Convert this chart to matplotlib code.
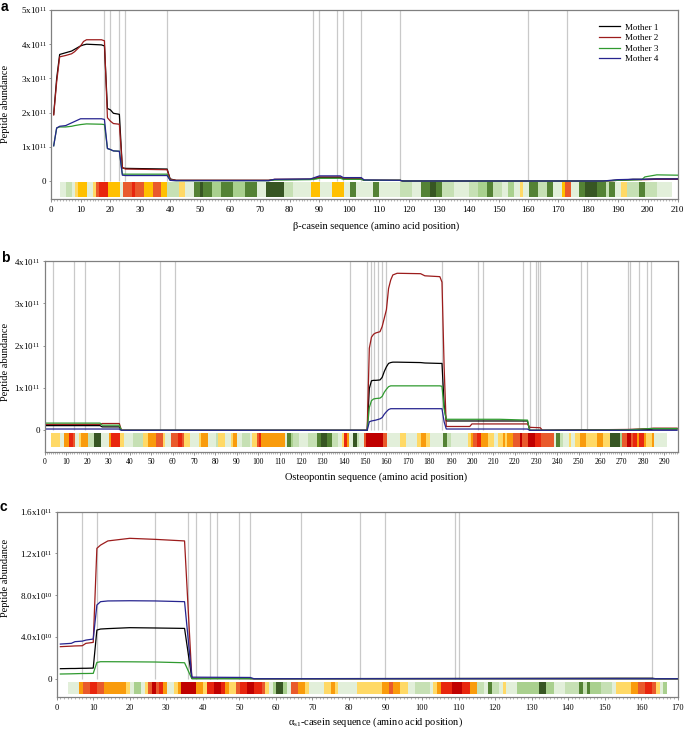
import numpy as np
import matplotlib
matplotlib.use("Agg")
import matplotlib.pyplot as plt
from matplotlib.colors import ListedColormap
from matplotlib.ticker import MultipleLocator

plt.rcParams['font.family'] = ['Liberation Serif', 'DejaVu Serif']
plt.rcParams['mathtext.fontset'] = 'custom'
plt.rcParams['mathtext.rm'] = 'Liberation Serif'
plt.rcParams['mathtext.it'] = 'Liberation Serif:italic'
plt.rcParams['mathtext.bf'] = 'Liberation Serif:bold'

MOTHERS = ["Mother 1", "Mother 2", "Mother 3", "Mother 4"]
LINE_COLORS = ["#000000", "#9c1c1c", "#2f9a2f", "#26248f"]

# heat-strip levels (per amino acid) and their colours
LEVELS = "abcdeyYorRD"
LEVEL_COLORS = ["#e2efda", "#c6e0b4", "#a9d08e", "#548235", "#375623",
                "#ffd966", "#ffc000", "#f99b0c", "#e95a2c", "#e8260e", "#c00000"]

# ---------------- panel a : beta-casein (units 1e11) ----------------
a_pos = [1, 2, 3, 5, 7, 8, 10, 11, 12, 17, 18, 19, 20, 21, 23, 24, 25, 39, 40, 42,
         73, 75, 87, 89, 90, 97, 98, 104, 105, 117, 118, 185, 190, 195, 198, 199, 203, 210]
a_m1 = [1.95, 3.0, 3.7, 3.75, 3.8, 3.85, 3.95, 3.98, 4.0, 3.98, 3.95, 2.12, 2.08, 1.98, 1.95, 0.38, 0.37, 0.35, 0.06, 0.02,
        0.02, 0.04, 0.05, 0.08, 0.1, 0.1, 0.07, 0.06, 0.02, 0.02, 0.0, 0.0, 0.02, 0.05, 0.05, 0.05, 0.06, 0.06]
a_m2 = [1.93, 2.9, 3.63, 3.67, 3.72, 3.78, 3.95, 4.08, 4.13, 4.13, 4.1, 1.85, 1.75, 1.68, 1.66, 0.4, 0.35, 0.33, 0.05, 0.02,
        0.02, 0.05, 0.05, 0.1, 0.12, 0.12, 0.08, 0.08, 0.02, 0.02, 0.0, 0.0, 0.02, 0.04, 0.04, 0.04, 0.05, 0.05]
a_m3 = [1.03, 1.55, 1.58, 1.58, 1.6, 1.62, 1.65, 1.66, 1.67, 1.66, 1.65, 0.95, 0.92, 0.88, 0.87, 0.2, 0.2, 0.2, 0.02, 0.01,
        0.01, 0.03, 0.04, 0.06, 0.08, 0.08, 0.05, 0.05, 0.02, 0.02, 0.0, 0.0, 0.02, 0.03, 0.04, 0.12, 0.18, 0.17]
a_m4 = [1.03, 1.55, 1.6, 1.62, 1.7, 1.74, 1.82, 1.82, 1.82, 1.82, 1.8, 0.95, 0.92, 0.88, 0.87, 0.17, 0.16, 0.16, 0.02, 0.01,
        0.01, 0.05, 0.06, 0.12, 0.15, 0.15, 0.1, 0.1, 0.03, 0.02, 0.0, 0.0, 0.04, 0.05, 0.05, 0.05, 0.06, 0.06]
a_vlines = [18, 20, 23, 25, 39, 88, 90, 96, 98, 104, 117, 160, 173]
a_yticks = [0, 1, 2, 3, 4, 5]
a_ylabels = ["0", r"$\mathrm{1x10^{11}}$", r"$\mathrm{2x10^{11}}$", r"$\mathrm{3x10^{11}}$",
             r"$\mathrm{4x10^{11}}$", r"$\mathrm{5x10^{11}}$"]
a_strip = ("0:3 a:2 b:2 a:1 y:1 Y:3 a:2 y:1 r:1 R:3 Y:4 a:1 r:3 R:1 r:3 Y:3 r:3 Y:2 b:4 y:2 a:3 d:2 e:1 "
           "d:3 c:3 d:4 c:4 d:4 a:3 e:6 b:3 a:6 Y:3 a:4 Y:4 a:2 d:2 a:6 d:2 a:7 b:4 a:3 d:3 e:2 d:2 b:4 "
           "a:5 b:3 c:3 d:2 b:3 a:2 c:2 a:2 y:1 a:2 d:3 b:3 d:2 a:3 Y:1 r:2 a:3 d:2 e:4 d:3 b:1 d:2 a:2 "
           "y:2 b:4 d:2 b:4 a:5 0:2")

# ---------------- panel b : osteopontin (units 1e11) ----------------
b_pos = [1, 26, 27, 35, 36, 151, 152, 153, 154, 155, 157, 158, 159, 160, 161, 162, 163, 165, 176, 178,
         185, 186, 187, 188, 199, 200, 213, 226, 227, 232, 233, 273, 283, 285, 296]
b_m1 = [0.11, 0.11, 0.08, 0.08, 0.0, 0.0, 0.99, 1.17, 1.18, 1.18, 1.19, 1.25, 1.39, 1.5, 1.58, 1.6, 1.61, 1.61, 1.6, 1.59,
        1.58, 1.58, 0.6, 0.22, 0.22, 0.22, 0.22, 0.22, 0.0, 0.0, 0.0, 0.01, 0.02, 0.03, 0.03]
b_m2 = [0.14, 0.14, 0.16, 0.16, 0.0, 0.0, 1.94, 2.2, 2.27, 2.3, 2.33, 2.45, 2.65, 2.85, 3.35, 3.55, 3.67, 3.71, 3.7, 3.65,
        3.63, 3.5, 1.5, 0.09, 0.09, 0.15, 0.15, 0.15, 0.07, 0.06, 0.0, 0.02, 0.04, 0.05, 0.05]
b_m3 = [0.17, 0.17, 0.12, 0.12, 0.0, 0.0, 0.54, 0.7, 0.74, 0.75, 0.76, 0.8, 0.9, 0.97, 1.03, 1.05, 1.05, 1.05, 1.05, 1.05,
        1.05, 1.04, 0.5, 0.26, 0.26, 0.26, 0.26, 0.24, 0.0, 0.0, 0.0, 0.01, 0.04, 0.04, 0.04]
b_m4 = [0.03, 0.03, 0.03, 0.03, 0.0, 0.0, 0.2, 0.22, 0.23, 0.24, 0.27, 0.3, 0.38, 0.44, 0.49, 0.51, 0.51, 0.51, 0.51, 0.51,
        0.51, 0.51, 0.2, 0.03, 0.03, 0.03, 0.03, 0.03, 0.0, 0.0, 0.0, 0.0, 0.0, 0.0, 0.0]
b_vlines = [4, 14, 19, 35, 54, 61, 143, 151, 153, 154, 156, 158, 160, 186, 203, 205, 224, 227, 230, 231, 232,
            251, 254, 273, 274, 278, 282, 284]
b_yticks = [0, 1, 2, 3, 4]
b_ylabels = ["0", r"$\mathrm{1x10^{11}}$", r"$\mathrm{2x10^{11}}$", r"$\mathrm{3x10^{11}}$", r"$\mathrm{4x10^{11}}$"]
b_strip = ("0:3 y:4 a:2 o:2 R:2 r:1 a:2 y:1 o:3 b:3 e:3 a:4 o:1 R:4 y:2 a:4 b:5 y:2 o:4 r:3 y:1 a:3 r:3 R:2 "
           "r:1 y:3 a:4 y:1 o:3 a:4 b:1 y:3 a:3 y:1 o:2 a:2 b:4 a:1 y:2 r:1 R:1 o:11 a:1 d:2 c:1 b:3 a:4 b:4 "
           "d:2 e:3 d:2 b:3 a:2 y:1 R:1 o:1 a:2 e:2 b:1 a:2 r:1 D:8 r:2 a:6 y:3 a:5 y:2 o:2 y:2 a:6 d:2 b:2 "
           "a:8 y:1 o:1 r:2 R:2 o:3 y:3 a:2 y:2 o:1 y:1 o:3 r:3 D:1 r:3 D:3 R:3 r:6 a:1 d:2 b:1 a:3 y:1 a:2 "
           "y:2 o:3 y:5 o:3 y:3 e:5 c:1 r:2 D:2 r:1 R:2 o:1 R:2 o:1 y:3 o:1 a:6 0:5")

# ---------------- panel c : alpha-s1-casein (units 1e10) ----------------
c_pos = [1, 4, 5, 7, 8, 10, 11, 12, 14, 20, 27, 35, 37, 53, 54, 154, 163, 164, 170]
c_m1 = [0.96, 0.98, 0.98, 1.0, 1.0, 1.02, 4.66, 4.76, 4.8, 4.89, 4.86, 4.82, 0.02, 0.02, 0.0, 0.05, 0.05, 0.0, 0.0]
c_m2 = [3.07, 3.12, 3.14, 3.16, 3.39, 3.48, 12.49, 12.8, 13.2, 13.45, 13.35, 13.2, 0.05, 0.02, 0.0, 0.0, 0.0, 0.0, 0.0]
c_m3 = [0.45, 0.47, 0.48, 0.5, 0.5, 0.51, 1.56, 1.63, 1.63, 1.62, 1.6, 1.53, 0.0, 0.0, 0.0, 0.0, 0.0, 0.0, 0.0]
c_m4 = [3.32, 3.39, 3.55, 3.6, 3.7, 3.8, 7.06, 7.38, 7.45, 7.47, 7.45, 7.38, 0.15, 0.12, 0.0, 0.0, 0.0, 0.0, 0.0]
c_vlines = [7, 11, 27, 36, 38, 42, 44, 50, 53, 67, 83, 90, 109, 110, 163]
c_yticks = [0, 4, 8, 12, 16]
c_ylabels = ["0", r"$\mathrm{4.0x10^{10}}$", r"$\mathrm{8.0x10^{10}}$", r"$\mathrm{1.2x10^{11}}$", r"$\mathrm{1.6x10^{11}}$"]
c_strip = ("0:3 a:3 o:1 r:2 R:2 r:2 o:6 y:1 a:1 c:2 a:1 y:1 r:1 D:1 r:1 R:1 o:1 a:2 y:1 o:1 D:4 o:2 y:1 R:2 "
           "D:2 R:1 o:1 y:2 r:1 R:2 D:2 R:2 r:1 y:1 a:1 c:1 e:2 c:1 a:1 r:2 o:2 y:1 a:4 y:2 o:1 y:1 a:5 y:7 "
           "o:2 r:1 o:2 y:2 a:2 b:4 a:1 y:1 o:1 R:3 D:3 R:2 o:2 b:2 a:1 d:1 b:2 a:1 y:1 a:3 c:6 e:2 c:2 a:3 "
           "b:4 d:1 b:1 d:1 c:3 b:3 a:1 y:4 o:2 r:2 R:2 r:1 y:1 a:1 c:1 0:3")

W, H = 685, 729
fig = plt.figure(figsize=(W / 100, H / 100), dpi=100)


def frac_box(l, r, t, b):
    return [l / W, 1 - b / H, (r - l) / W, (b - t) / H]


def expand(rle):
    codes = []
    for tok in rle.split():
        ch, n = tok.split(":")
        codes.extend([ch] * int(n))
    vals = np.array([LEVELS.index(c) if c in LEVELS else -1 for c in codes], dtype=float)
    return np.ma.masked_less(vals, 0)


cmap = ListedColormap(LEVEL_COLORS)
cmap.set_bad((1, 1, 1, 0))

panels = [
    dict(box=frac_box(50.7, 677.7, 10, 199), pos=a_pos, series=[a_m1, a_m2, a_m3, a_m4], vl=a_vlines,
         xmax=210, ytop=5, ybot=-0.526, strip=a_strip, sy=(-0.05, -0.48), yt=a_yticks, yl=a_ylabels,
         xfs=6.5, letter="a", lpos=(1, 11), xlabel="β-casein sequence (amino acid position)", xly=226,
         yly=104, legend=True),
    dict(box=frac_box(44.5, 677.7, 261, 451.7), pos=b_pos, series=[b_m1, b_m2, b_m3, b_m4], vl=b_vlines,
         xmax=296.3, ytop=4, ybot=-0.506, strip=b_strip, sy=(-0.07, -0.40), yt=b_yticks, yl=b_ylabels,
         xfs=5.5, letter="b", lpos=(1, 262), xlabel="Osteopontin sequence (amino acid position)", xly=477.5,
         yly=362, legend=False),
    dict(box=frac_box(56.7, 677.7, 511.7, 697.3), pos=c_pos, series=[c_m1, c_m2, c_m3, c_m4], vl=c_vlines,
         xmax=170, ytop=16, ybot=-1.78, strip=c_strip, sy=(-0.44, -1.5), yt=c_yticks, yl=c_ylabels,
         xfs=6.0, letter="c", lpos=(0, 511), xlabel=r"α$_{\mathrm{s1}}$-casein sequence (amino acid position)",
         xly=722, yly=578, legend=False),
]

for p in panels:
    ax = fig.add_axes(p["box"])
    ax.vlines(p["vl"], 0, p["ytop"], colors="#c9c9c9", linewidth=0.9, zorder=1)
    vals = expand(p["strip"])
    ax.imshow(vals[np.newaxis, :], cmap=cmap, vmin=-0.5, vmax=len(LEVELS) - 0.5, aspect="auto",
              interpolation="nearest", extent=(0, len(vals), p["sy"][1], p["sy"][0]), zorder=2)
    for name, col, ys in zip(MOTHERS, LINE_COLORS, p["series"]):
        ax.plot(p["pos"], ys, color=col, linewidth=0.9, label=name, zorder=3)
    ax.set_xlim(0, p["xmax"])
    ax.set_ylim(p["ybot"], p["ytop"])
    ax.xaxis.set_major_locator(MultipleLocator(10))
    ax.xaxis.set_minor_locator(MultipleLocator(1))
    ax.set_yticks(p["yt"], p["yl"])
    ax.tick_params(axis="x", which="major", length=2.2, width=0.6, color="#808080", pad=2.5,
                   labelsize=p["xfs"])
    ax.tick_params(axis="x", which="minor", length=1.6, width=0.4, color="#808080")
    ax.tick_params(axis="y", which="major", length=1.5, width=0.6, color="#808080", pad=1.5, labelsize=6.5)
    for s in ax.spines.values():
        s.set_color("#808080")
        s.set_linewidth(0.9)
    if p["legend"]:
        ax.legend(loc="upper left", bbox_to_anchor=(0.875, 0.93), frameon=False, fontsize=6.5,
                  handlelength=2.3, handletextpad=0.5, labelspacing=0.25, borderpad=0, borderaxespad=0)
    fig.text(p["lpos"][0] / W, 1 - p["lpos"][1] / H, p["letter"], fontsize=10, fontweight="bold",
             family=["Liberation Sans", "DejaVu Sans"], ha="left", va="baseline")
    fig.text(376 / W, 1 - p["xly"] / H, p["xlabel"], fontsize=7.5, ha="center", va="center")
    fig.text(5.5 / W, 1 - p["yly"] / H, "Peptide abundance", fontsize=7.5, rotation=90,
             ha="center", va="center")

fig.savefig("out.png", dpi=100)
